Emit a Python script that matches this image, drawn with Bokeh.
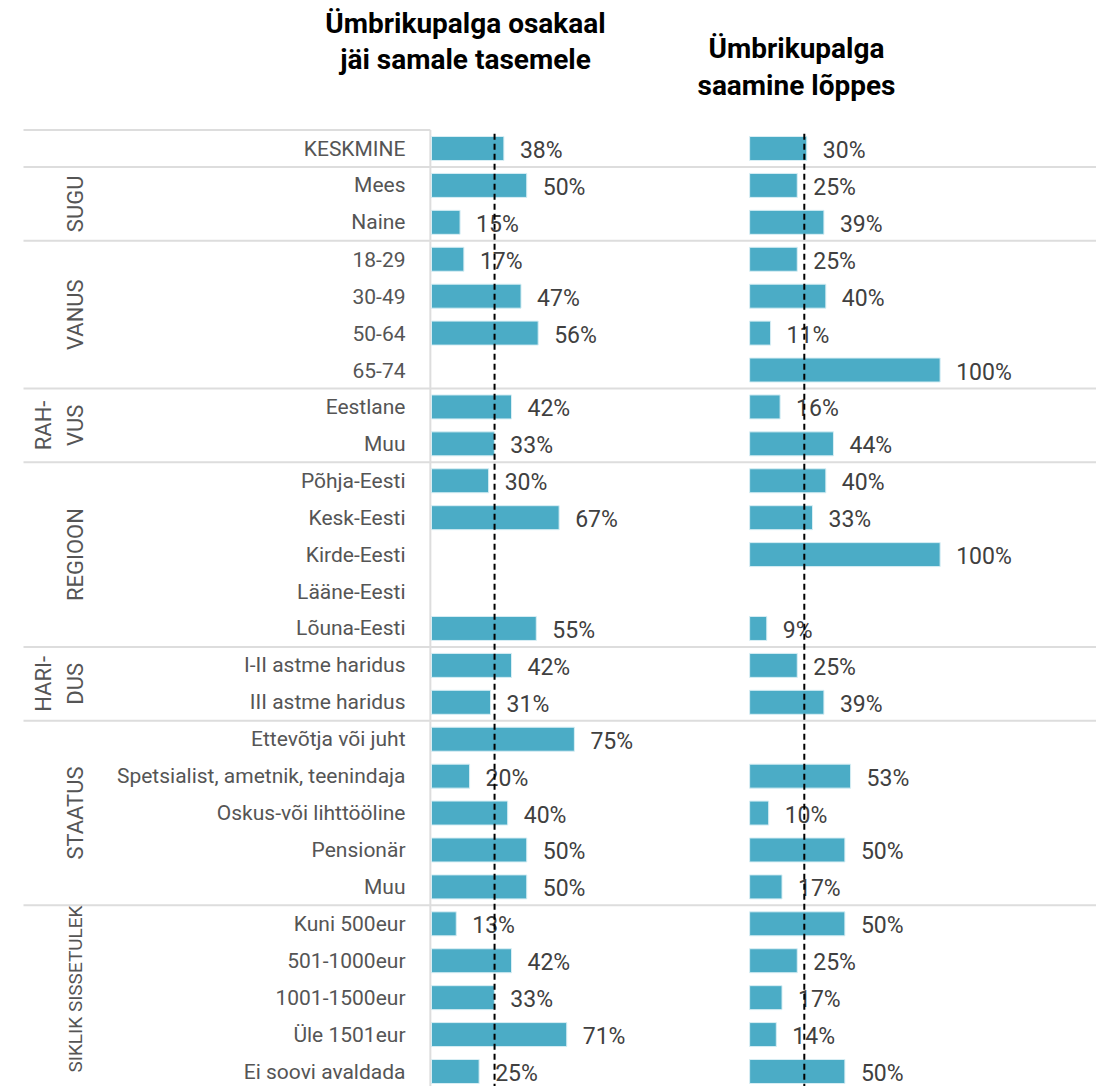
from bokeh.plotting import figure
from bokeh.models import Range1d, ColumnDataSource
from bokeh.core.properties import value
from bokeh.embed import file_html
from bokeh.resources import INLINE
import math

categories = ["KESKMINE", "Mees", "Naine", "18-29", "30-49", "50-64", "65-74",
              "Eestlane", "Muu", "Põhja-Eesti", "Kesk-Eesti", "Kirde-Eesti",
              "Lääne-Eesti", "Lõuna-Eesti", "I-II astme haridus", "III astme haridus",
              "Ettevõtja või juht", "Spetsialist, ametnik, teenindaja",
              "Oskus-või lihttööline", "Pensionär", "Muu", "Kuni 500eur",
              "501-1000eur", "1001-1500eur", "Üle 1501eur", "Ei soovi avaldada"]
left_vals = [38, 50, 15, 17, 47, 56, None, 42, 33, 30, 67, None, None, 55, 42, 31,
             75, 20, 40, 50, 50, 13, 42, 33, 71, 25]
right_vals = [30, 25, 39, 25, 40, 11, 100, 16, 44, 40, 33, 100, None, 9, 25, 39,
              None, 53, 10, 50, 17, 50, 25, 17, 14, 50]
group_names = [[], ["SUGU"], ["VANUS"], ["RAH-", "VUS"], ["REGIOON"], ["HARI-", "DUS"],
               ["STAATUS"], ["SIKLIK SISSETULEK"]]
group_sizes = [1, 2, 4, 2, 5, 2, 5, 5]
left_title = ["Ümbrikupalga osakaal", "jäi samale tasemele"]
right_title = ["Ümbrikupalga", "saamine lõppes"]
left_ref = 33.1
right_ref = 28.7

FONT = value("Roboto")
BAR = "#4BACC6"
W, H = 1096, 1086
PX = 1.905          # pixels per percent
RIGHT_OFFSET = 167  # right panel start, in percent units
x_start = -431 / PX
x_end = x_start + W / PX
ROWPX = 36.92
y_top = -148 / ROWPX
y_bot = y_top + H / ROWPX


def px_x(px):
    return (px - 431) / PX


def px_y(py):
    return (py - 148) / ROWPX


p = figure(width=W, height=H, x_range=Range1d(x_start, x_end),
           y_range=Range1d(y_bot, y_top), output_backend="svg",
           toolbar_location=None, min_border=0)
p.axis.visible = False
p.grid.visible = False
p.outline_line_color = None
p.background_fill_color = "white"

n = len(categories)
# separators
bounds = []
acc = 0
for s in group_sizes[:-1]:
    acc += s
    bounds.append(acc - 0.5)
lab_left = px_x(23)
p.segment(x0=[lab_left] * len(bounds), x1=[x_end] * len(bounds), y0=bounds, y1=bounds,
          line_color="#DDDDDD", line_width=2)
p.segment(x0=[lab_left], x1=[-0.6], y0=[-0.5], y1=[-0.5], line_color="#DDDDDD", line_width=2)
p.segment(x0=[-0.6], x1=[-0.6], y0=[-0.5], y1=[y_bot], line_color="#DDDDDD", line_width=2)

# bars
for vals, off in ((left_vals, 0), (right_vals, RIGHT_OFFSET)):
    ys = [i for i, v in enumerate(vals) if v is not None]
    vs = [v for v in vals if v is not None]
    src = ColumnDataSource(dict(y=ys, left=[off] * len(vs), right=[off + v for v in vs],
                                lab=[f"{v}%" for v in vs]))
    p.hbar(y="y", left="left", right="right", height=0.65, source=src,
           fill_color=BAR, line_color="#D8EEF4", line_width=1)
    p.text(x="right", y="y", text="lab", source=src, x_offset=16, y_offset=2,
           text_font=FONT, text_font_size="23px", text_color="#404040",
           text_baseline="middle", text_align="left")

# reference dashed lines
p.segment(x0=[left_ref, RIGHT_OFFSET + right_ref], x1=[left_ref, RIGHT_OFFSET + right_ref],
          y0=[-0.4, -0.4], y1=[y_bot, y_bot], line_color="black", line_width=2,
          line_dash="6 4")

# category labels
p.text(x=[px_x(405)] * n, y=list(range(n)), text=categories,
       text_font=FONT, text_font_size="21px", text_color="#555555",
       text_baseline="middle", text_align="right")

# group labels
start = 0
for names, s in zip(group_names, group_sizes):
    center = start + (s - 1) / 2
    start += s
    if not names:
        continue
    if len(names) == 1:
        if names[0].startswith("SIKLIK"):
            p.text(x=[px_x(75)], y=[px_y(905)], text=names, angle=math.pi / 2,
                   text_font=FONT, text_font_size="19px", text_color="#555555",
                   text_baseline="middle", text_align="right")
        else:
            p.text(x=[px_x(75)], y=[center], text=names, angle=math.pi / 2,
                   text_font=FONT, text_font_size="22px", text_color="#555555",
                   text_baseline="middle", text_align="center")
    else:
        p.text(x=[px_x(43), px_x(75)], y=[center, center], text=names,
               angle=math.pi / 2, text_font=FONT, text_font_size="22px",
               text_color="#555555", text_baseline="middle", text_align="center")

# titles
p.text(x=[px_x(465)] * 2, y=[px_y(23), px_y(59)], text=left_title,
       text_font=FONT, text_font_size="28px", text_font_style="bold", text_color="black",
       text_baseline="middle", text_align="center")
p.text(x=[px_x(796)] * 2, y=[px_y(48), px_y(85)], text=right_title,
       text_font=FONT, text_font_size="28px", text_font_style="bold", text_color="black",
       text_baseline="middle", text_align="center")

open("out.html", "w").write(file_html(p, INLINE))
